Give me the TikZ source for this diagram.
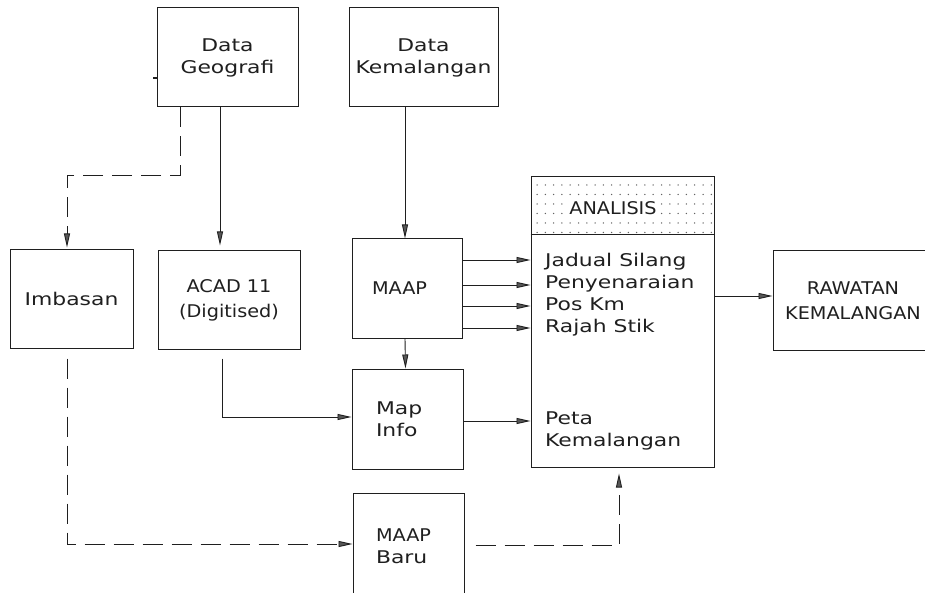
\documentclass[tikz,border=0pt]{standalone}
\usepackage{fontspec}
\setmainfont{DejaVu Sans}[FakeStretch=1.25]
\newfontfamily\capsfam{DejaVu Sans}[FakeStretch=1.1]
\usetikzlibrary{arrows.meta}
\definecolor{ink}{gray}{0.12}
\newcommand\lcfont{\fontsize{17.5}{22}\selectfont}
\newcommand\ucfont{\capsfam\fontsize{17.5}{25}\selectfont}
\tikzset{
  box/.style={draw=ink, line width=1pt, rectangle, inner sep=0pt, align=center, font=\lcfont, text=ink},
  txt/.style={inner sep=0pt, align=left, font=\lcfont, text=ink},
  conn/.style={draw=ink, line width=0.9pt},
  arr/.style={conn, -{Triangle[length=14pt,width=6pt,fill=ink!75]}},
  darr/.style={arr, dash pattern=on 20pt off 9pt},
}
\begin{document}
\begin{tikzpicture}[x=1pt,y=-1pt]
\useasboundingbox (0,0) rectangle (925,593);
\clip (0,0) rectangle (925,593);
\fill[white] (0,0) rectangle (925,593);

% boxes
\node[box, minimum width=141pt, minimum height=99pt] (geo) at (227.5,57.5) {Data\\Geografi};
\node[box, minimum width=149pt, minimum height=99pt] (kem) at (423.5,57.5) {Data\\Kemalangan};
\node[box, minimum width=123pt, minimum height=98pt] (imb) at (71.5,299) {Imbasan};
\node[box, minimum width=142pt, minimum height=98pt, font=\ucfont] (acad) at (229,300) {ACAD 11\\{\lcfont (Digitised)}};
\node[box, minimum width=110pt, minimum height=99pt, font=\ucfont, text width=70pt, align=left] (maap) at (407,288.5) {MAAP};
\node[box, minimum width=111pt, minimum height=100pt, text width=63pt, align=left] (mapinfo) at (407.5,419) {Map\\Info};
\node[box, minimum width=111pt, minimum height=106pt, text width=65pt, align=left] (baru) at (408.5,546) {{\ucfont MAAP}\\Baru};
\node[box, minimum width=183pt, minimum height=290pt] (ana) at (622.5,322) {};
\node[box, minimum width=160pt, minimum height=99pt, font=\ucfont] (raw) at (853,300.5) {RAWATAN\\KEMALANGAN};

% ANALISIS header
\foreach \yy in {185,194.5,204,213.5,223,232.5}
  \foreach \xx in {537,545.3,...,712}
    \fill[ink!70] (\xx,\yy) circle (0.75pt);
\draw[conn, line width=1pt] (ana.west |- 0,235) -- (ana.east |- 0,235);
\node[txt, fill=white, inner xsep=1pt, inner ysep=1pt, font=\ucfont] (head) at (613,208) {ANALISIS};
\node[txt, anchor=west] (list) at (545,295) {Jadual Silang\\Penyenaraian\\Pos Km\\Rajah Stik};
\node[txt, anchor=west] (peta) at (545,431) {Peta\\Kemalangan};

% stray tick
\coordinate (tick) at (153,78);
\draw[conn, line width=1.5pt] (tick) -- (geo.west |- tick);

% connectors
\draw[arr] ([xshift=-7.5pt]geo.south) -- ([xshift=-9pt,yshift=5pt]acad.north);
\draw[darr] ([xshift=-47.5pt]geo.south) -- ++(0,68) -| ([xshift=-4.5pt,yshift=2pt]imb.north);
\draw[arr] ([xshift=-2pt]maap.north |- kem.south) -- ([xshift=-2pt]maap.north);
\foreach \yy in {260,285,306,328}
  \draw[arr] (maap.east |- 0,\yy) -- (ana.west |- 0,\yy);
\draw[arr] ([xshift=-2pt]maap.south) -- ([xshift=-2pt]mapinfo.north);
\draw[arr] ([xshift=-7pt,yshift=-9pt]acad.south) |- (mapinfo.west |- 0,417);
\draw[arr] (mapinfo.east |- 0,421) -- (ana.west |- 0,421);
\draw[darr] ([xshift=-4.5pt,yshift=-10pt]imb.south) |- (baru.west |- 0,544);
\draw[darr] ([xshift=11pt]baru.east |- 0,545) -| ([xshift=-3.5pt,yshift=-6pt]ana.south);
\draw[arr] (ana.east |- 0,296) -- (raw.west |- 0,296);
\end{tikzpicture}
\end{document}
